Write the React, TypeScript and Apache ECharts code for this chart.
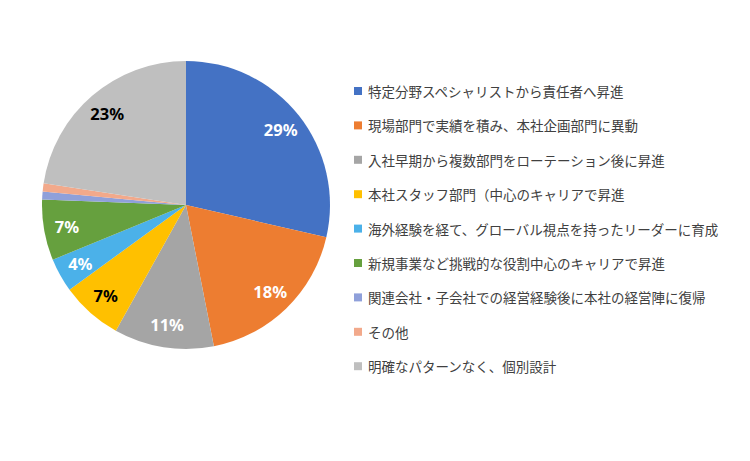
import React, { useEffect, useRef } from "react";
import * as echarts from "echarts";

const categories = [
  "特定分野スペシャリストから責任者へ昇進",
  "現場部門で実績を積み、本社企画部門に異動",
  "入社早期から複数部門をローテーション後に昇進",
  "本社スタッフ部門（中心のキャリアで昇進",
  "海外経験を経て、グローバル視点を持ったリーダーに育成",
  "新規事業など挑戦的な役割中心のキャリアで昇進",
  "関連会社・子会社での経営経験後に本社の経営陣に復帰",
  "その他",
  "明確なパターンなく、個別設計",
];
const legendLabels = [
  "特定分野スペシャリストから責任者へ昇進",
  "現場部門で実績を積み、本社企画部門に異動",
  "入社早期から複数部門をローテーション後に昇進",
  "本社スタッフ部門（中心のキャリアで昇進",
  "海外経験を経て、グローバル視点を持ったリーダーに育成",
  "新規事業など挑戦的な役割中心のキャリアで昇進",
  "関連会社・子会社での経営経験後に本社の経営陣に復帰",
  "その他",
  "明確なパターンなく、個別設計",
];
const shares = [28.6, 18.3, 11.2, 6.9, 3.8, 6.8, 0.9, 0.9, 22.6];
const colors = [
  "#4472C4",
  "#ED7D31",
  "#A5A5A5",
  "#FFC000",
  "#4BB1E9",
  "#66A03E",
  "#8FA0DA",
  "#F2A98B",
  "#BFBFBF",
];
const darkLabel = [false, false, false, true, false, false, false, false, true];

export default function App() {
  const ref = useRef<HTMLDivElement>(null);
  useEffect(() => {
    document.body.style.margin = "0";
    if (!ref.current) return;
    const chart = echarts.init(ref.current, null, { renderer: "svg" });
    const center = [186, 205];
    chart.setOption({
      animation: false,
      color: colors,
      legend: {
        orient: "vertical",
        left: 349,
        top: 78,
        icon: "rect",
        itemWidth: 8,
        itemHeight: 8,
        itemGap: 18.4,
        data: legendLabels,
        selectedMode: false,
        textStyle: {
          fontFamily: "'Noto Sans CJK JP', sans-serif",
          fontSize: 13.5,
          lineHeight: 16,
          color: "#404040",
          padding: [0, 0, 0, 1],
        },
      },
      series: [
        {
          type: "pie",
          center,
          radius: [0, 144],
          startAngle: 90,
          clockwise: true,
          label: { show: false },
          labelLine: { show: false },
          itemStyle: { borderWidth: 0 },
          emphasis: { disabled: true },
          data: categories.map((name, i) => ({ name, value: shares[i] })),
        },
        {
          type: "pie",
          center,
          radius: [92, 144],
          startAngle: 90,
          clockwise: true,
          silent: true,
          labelLine: { show: false },
          itemStyle: { color: "rgba(0,0,0,0)", borderWidth: 0 },
          emphasis: { disabled: true },
          label: {
            show: true,
            position: "inside",
            fontFamily: "'Noto Sans', sans-serif",
            fontWeight: "bold",
            fontSize: 16.5,
            formatter: (p: any) => (p.percent < 2 ? "" : Math.round(p.value) + "%"),
          },
          data: categories.map((name, i) => ({
            name,
            value: shares[i],
            itemStyle: { color: "rgba(0,0,0,0)" },
            label: { color: darkLabel[i] ? "#000000" : "#FFFFFF" },
          })),
        },
      ],
    });
    return () => chart.dispose();
  }, []);
  return <div ref={ref} style={{ width: 750, height: 461 }} />;
}
